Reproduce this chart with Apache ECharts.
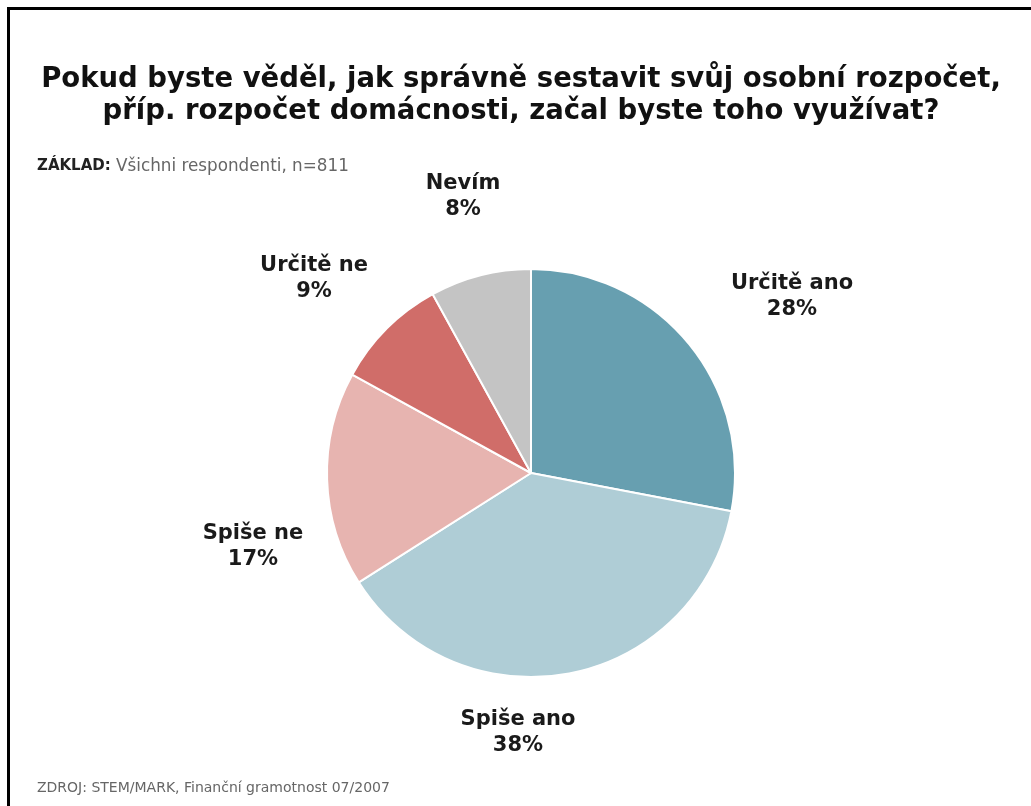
<!DOCTYPE html>
<html>
<head>
<meta charset="utf-8">
<script src="https://cdn.jsdelivr.net/npm/echarts@6/dist/echarts.min.js"></script>
<style>
  html, body { margin: 0; padding: 0; background: #fff; }
  #chart { width: 1031px; height: 806px; }
</style>
</head>
<body>
<div id="chart"></div>
<script>
// Survey answers, clockwise from 12 o'clock
const categories = ['Určitě ano', 'Spiše ano', 'Spiše ne', 'Určitě ne', 'Nevím'];
const shares = [28, 38, 17, 9, 8];
const sliceColors = ['#679fb0', '#afcdd6', '#e7b4b0', '#d06d69', '#c4c4c4'];

const titleText = 'Pokud byste věděl, jak správně sestavit svůj osobní rozpočet,\npříp. rozpočet domácnosti, začal byste toho využívat?';
const baseLabel = 'ZÁKLAD:';
const baseText = ' Všichni respondenti, n=811';
const sourceText = 'ZDROJ: STEM/MARK, Finanční gramotnost 07/2007';

// Pie geometry and label anchors (pixels)
const CENTER = [531, 473];
const RADIUS = 204;
const labelAnchors = [[792, 297], [518, 733], [253, 547], [314, 279], [463, 197]];

const chart = echarts.init(document.getElementById('chart'));

chart.setOption({
  backgroundColor: '#ffffff',
  animation: false,
  title: [
    {
      text: titleText,
      left: 516, top: 59, textAlign: 'center',
      textStyle: { fontFamily: 'DejaVu Sans', fontWeight: 'bold', fontSize: 27.5, lineHeight: 32, color: '#111' }
    },
    {
      text: '{b|' + baseLabel + '}{n|' + baseText + '}',
      left: 32, top: 153,
      textStyle: {
        rich: {
          b: { fontFamily: 'DejaVu Sans', fontWeight: 'bold', fontSize: 15, color: '#222' },
          n: { fontFamily: 'DejaVu Sans', fontWeight: 'normal', fontSize: 16.8, color: '#666' }
        }
      }
    },
    {
      text: sourceText,
      left: 32, top: 776,
      textStyle: { fontFamily: 'DejaVu Sans', fontWeight: 'normal', fontSize: 14, color: '#666' }
    }
  ],
  graphic: [
    { type: 'line', shape: { x1: 7, y1: 8.5, x2: 1031, y2: 8.5 }, style: { stroke: '#000', lineWidth: 3 } },
    { type: 'line', shape: { x1: 8.5, y1: 7, x2: 8.5, y2: 806 }, style: { stroke: '#000', lineWidth: 3 } }
  ],
  series: [{
    type: 'pie',
    center: CENTER,
    radius: RADIUS,
    startAngle: 90,
    clockwise: true,
    data: categories.map((name, i) => ({ name, value: shares[i], itemStyle: { color: sliceColors[i] } })),
    itemStyle: { borderColor: '#ffffff', borderWidth: 2 },
    label: {
      show: true,
      position: 'outside',
      formatter: '{b}\n{c}%',
      fontFamily: 'DejaVu Sans',
      fontWeight: 'bold',
      fontSize: 21,
      lineHeight: 26,
      color: '#1a1a1a',
      align: 'center'
    },
    labelLine: { show: false },
    labelLayout: function (params) {
      const p = labelAnchors[params.dataIndex];
      return { x: p[0], y: p[1], align: 'center', verticalAlign: 'middle' };
    },
    emphasis: { disabled: true }
  }]
});
</script>
</body>
</html>
